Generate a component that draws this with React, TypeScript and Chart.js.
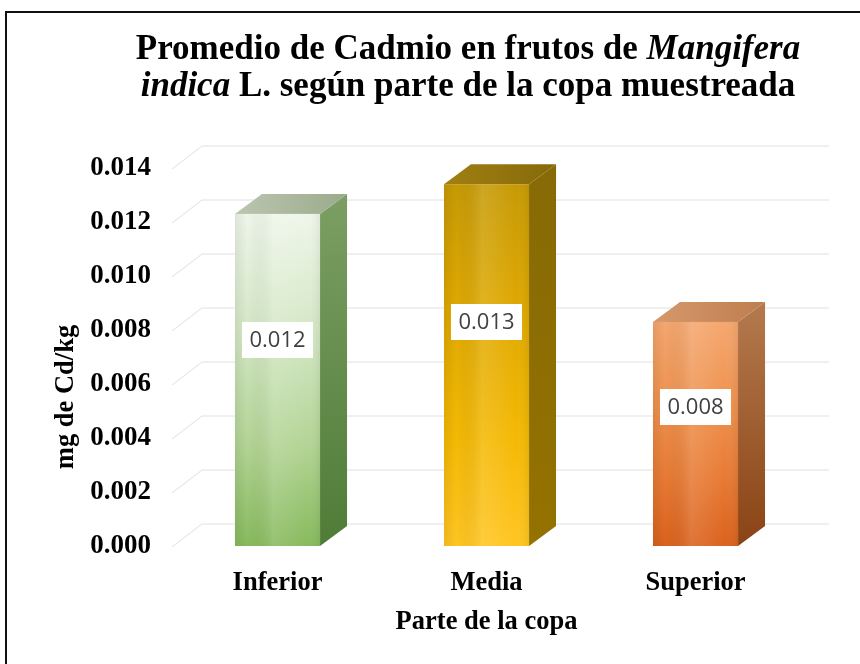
import React, { useEffect, useRef } from "react";
import { Chart, registerables } from "chart.js";

Chart.register(...registerables);

// ---- data ----
const categories = ["Inferior", "Media", "Superior"];
const cadmium = [0.0123, 0.0134, 0.0083];
const yMin = 0;
const yMax = 0.014;
const yStep = 0.002;
const titleLine1 = [
  { text: "Promedio de Cadmio en frutos de ", italic: false },
  { text: "Mangifera", italic: true },
];
const titleLine2 = [
  { text: "indica", italic: true },
  { text: " L. según parte de la copa muestreada", italic: false },
];
const yAxisTitle = "mg de Cd/kg";
const xAxisTitle = "Parte de la copa";

// ---- styles ----
const SERIF = "'Liberation Serif', 'Times New Roman', serif";
const barStyles = [
  {
    front: ["#eef6ea", "#d5e8c6", "#b2d494", "#88ba5d"],
    side: ["#7c9e64", "#4f7c37"],
    top: ["#bcc5b0", "#9aab8b"],
  },
  {
    front: ["#c69a06", "#dfa902", "#f4b905", "#ffc522"],
    side: ["#876a06", "#947200"],
    top: ["#a08012", "#86690a"],
  },
  {
    front: ["#f4a76f", "#ef9350", "#e77a34", "#da621d"],
    side: ["#b47a4e", "#8a4314"],
    top: ["#d6986b", "#bf7d4f"],
  },
];
const DX = 27;
const DY = -20;
const GX = 29;
const GY = -22;

const threeDPlugin = {
  id: "threeD",
  beforeDraw(chart: any) {
    const { ctx, width, height } = chart;
    ctx.save();
    ctx.fillStyle = "#ffffff";
    ctx.fillRect(0, 0, width, height);
    ctx.fillStyle = "#111111";
    ctx.fillRect(5, 11, 2, height);
    ctx.fillRect(5, 11, width, 2);
    ctx.restore();
  },
  beforeDatasetsDraw(chart: any) {
    const { ctx, chartArea } = chart;
    const ys = chart.scales.y;
    ctx.save();
    ctx.strokeStyle = "#e0e0e0";
    ctx.lineWidth = 1;
    ys.ticks.forEach((t: any) => {
      const yv = ys.getPixelForValue(t.value);
      ctx.beginPath();
      ctx.moveTo(chartArea.left - 1, yv + 1);
      ctx.lineTo(chartArea.left + GX, yv + GY);
      ctx.lineTo(chartArea.right + GX, yv + GY);
      ctx.stroke();
    });
    ctx.restore();
  },
  afterDatasetsDraw(chart: any) {
    const { ctx } = chart;
    const meta = chart.getDatasetMeta(0);
    ctx.save();
    meta.data.forEach((el: any, i: number) => {
      const { x, y, base, width } = el.getProps(["x", "y", "base", "width"], true);
      const st = barStyles[i % barStyles.length];
      const x0 = x - width / 2;
      const x1 = x + width / 2;
      // side face
      let g = ctx.createLinearGradient(0, y + DY, 0, base);
      g.addColorStop(0, st.side[0]);
      g.addColorStop(1, st.side[1]);
      ctx.fillStyle = g;
      ctx.beginPath();
      ctx.moveTo(x1, y);
      ctx.lineTo(x1 + DX, y + DY);
      ctx.lineTo(x1 + DX, base + DY);
      ctx.lineTo(x1, base);
      ctx.closePath();
      ctx.fill();
      // top face
      g = ctx.createLinearGradient(x0, 0, x1 + DX, 0);
      g.addColorStop(0, st.top[0]);
      g.addColorStop(1, st.top[1]);
      ctx.fillStyle = g;
      ctx.beginPath();
      ctx.moveTo(x0, y);
      ctx.lineTo(x0 + DX, y + DY);
      ctx.lineTo(x1 + DX, y + DY);
      ctx.lineTo(x1, y);
      ctx.closePath();
      ctx.fill();
      // front face
      g = ctx.createLinearGradient(0, y, 0, base);
      g.addColorStop(0, st.front[0]);
      g.addColorStop(0.35, st.front[1]);
      g.addColorStop(0.7, st.front[2]);
      g.addColorStop(1, st.front[3]);
      ctx.fillStyle = g;
      ctx.fillRect(x0, y, width, base - y);
      const h = ctx.createLinearGradient(x0, 0, x1, 0);
      h.addColorStop(0, "rgba(0,0,0,0.07)");
      h.addColorStop(0.15, "rgba(0,0,0,0.0)");
      h.addColorStop(0.45, "rgba(255,255,255,0.12)");
      h.addColorStop(0.85, "rgba(255,255,255,0.0)");
      h.addColorStop(1, "rgba(0,0,0,0.06)");
      ctx.fillStyle = h;
      ctx.fillRect(x0, y, width, base - y);
    });
    // data labels
    meta.data.forEach((el: any, i: number) => {
      const { x, y, base } = el.getProps(["x", "y", "base"], true);
      const cy = y + 0.38 * (base - y);
      const bw = 71;
      const bh = 36;
      ctx.fillStyle = "#ffffff";
      ctx.fillRect(Math.round(x - bw / 2), Math.round(cy - bh / 2), bw, bh);
      ctx.fillStyle = "#404040";
      ctx.font = "22px 'Open Sans', 'Noto Sans', sans-serif";
      ctx.textAlign = "center";
      ctx.textBaseline = "middle";
      ctx.fillText(cadmium[i].toFixed(3), x, cy + 1);
    });
    ctx.restore();
  },
  afterDraw(chart: any) {
    const { ctx } = chart;
    ctx.save();
    ctx.fillStyle = "#000000";
    ctx.textBaseline = "alphabetic";
    ctx.textAlign = "left";
    const size = 35;
    const drawLine = (segs: { text: string; italic: boolean }[], cx: number, by: number) => {
      const fonts = segs.map((s) => `${s.italic ? "italic " : ""}bold ${size}px ${SERIF}`);
      let total = 0;
      const widths = segs.map((s, k) => {
        ctx.font = fonts[k];
        const w = ctx.measureText(s.text).width;
        total += w;
        return w;
      });
      let xx = cx - total / 2;
      segs.forEach((s, k) => {
        ctx.font = fonts[k];
        ctx.fillText(s.text, xx, by);
        xx += widths[k];
      });
    };
    drawLine(titleLine1, 468, 59);
    drawLine(titleLine2, 468, 96);
    // y axis title
    ctx.translate(66, 397);
    ctx.rotate(-Math.PI / 2);
    ctx.font = `bold 26.5px ${SERIF}`;
    ctx.textAlign = "center";
    ctx.textBaseline = "middle";
    ctx.fillText(yAxisTitle, 0, 0);
    ctx.restore();
  },
};

export default function App() {
  const ref = useRef<HTMLCanvasElement | null>(null);
  useEffect(() => {
    if (!ref.current) return;
    const chart = new Chart(ref.current, {
      type: "bar",
      data: {
        labels: categories,
        datasets: [
          {
            data: cadmium,
            backgroundColor: "rgba(0,0,0,0)",
            borderWidth: 0,
            barPercentage: 0.407,
            categoryPercentage: 1,
          },
        ],
      },
      options: {
        animation: false,
        responsive: false,
        devicePixelRatio: 1,
        layout: { padding: { top: 168, right: 60, bottom: 0, left: 0 } },
        plugins: {
          legend: { display: false },
          tooltip: { enabled: false },
          title: { display: false },
        },
        scales: {
          x: {
            type: "category",
            offset: true,
            grid: { display: false },
            border: { display: false },
            ticks: {
              color: "#000000",
              padding: 13,
              font: { family: SERIF, size: 26.5, weight: "bold" },
            },
            title: {
              display: true,
              text: xAxisTitle,
              color: "#000000",
              font: { family: SERIF, size: 26.5, weight: "bold" },
              padding: { top: 0, bottom: 26 },
            },
            afterFit: (s: any) => {
              s.height = 118;
            },
          },
          y: {
            type: "linear",
            min: yMin,
            max: yMax,
            grid: { display: false },
            border: { display: false },
            ticks: {
              stepSize: yStep,
              color: "#000000",
              padding: 14,
              font: { family: SERIF, size: 27, weight: "bold" },
              callback: (v: any) => Number(v).toFixed(3),
            },
            afterFit: (s: any) => {
              s.width = 173;
            },
          },
        },
      },
      plugins: [threeDPlugin],
    });
    return () => chart.destroy();
  }, []);
  return (
    <div style={{ position: "absolute", left: 0, top: 0, width: 860, height: 664 }}>
      <canvas ref={ref} width={860} height={664} style={{ display: "block" }} />
    </div>
  );
}
